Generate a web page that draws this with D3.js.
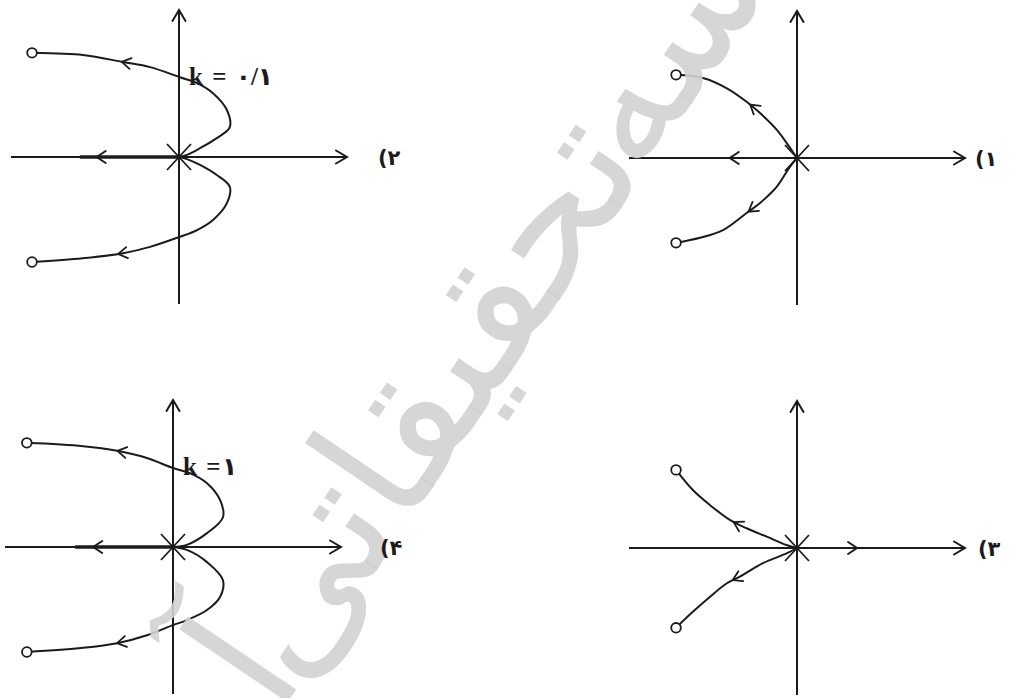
<!DOCTYPE html>
<html><head><meta charset="utf-8">
<script src="https://cdn.jsdelivr.net/npm/d3@7"></script>
<style>html,body{margin:0;padding:0;background:#fff;overflow:hidden}svg{display:block}</style>
</head><body>
<svg id="chart" width="1009" height="698"></svg>
<script>
// ---------------- data (s-plane units) ----------------
const panelNames = ["(۱", "(۲", "(۳", "(۴"];
const gainLabels = ["", "k = ۰/۱", "", "k =۱"];
const axisExtent = [-4, 4];      // real axis
const axisExtentIm = [-3.5, 3.5]; // imaginary axis

// panel 1
const zeros1 = [[-2.88, 1.98], [-2.88, -2.02]];
const upper1 = [[0,0],[-0.13,0.19],[-0.48,0.67],[-0.88,1.07],[-1.2,1.34],[-1.67,1.66],[-2.22,1.9],[-2.88,1.98]];
const lower1 = [[0,0],[-0.17,-0.21],[-0.48,-0.68],[-0.88,-1.07],[-1.2,-1.31],[-1.75,-1.71],[-2.31,-1.9],[-2.88,-2.02]];
const curveArrows1 = [[-1.12,1.26],[-1.17,-1.26]];
const realArrows1 = [[-1.6,-1]];
const realThick1 = [];

// panel 2
const zeros2 = [[-3.5, 2.48], [-3.5, -2.5]];
const upper2 = [[0,0],[0.19,0.05],[0.5,0.21],[0.9,0.45],[1.21,0.71],[1.14,1.12],[0.81,1.52],[0.43,1.76],[0.02,1.9],[-0.69,2.14],[-1.33,2.26],[-2.29,2.43],[-3.5,2.48]];
const lower2 = [[0,0],[0.19,-0.05],[0.5,-0.19],[0.9,-0.43],[1.21,-0.71],[1.14,-1.1],[0.81,-1.5],[0.43,-1.74],[0.02,-1.9],[-0.69,-2.14],[-1.33,-2.29],[-2.29,-2.41],[-3.5,-2.5]];
const curveArrows2 = [[-1.36,2.3],[-1.45,-2.29]];
const realArrows2 = [[-1.96,-1]];
const realThick2 = [-2.36, 0];

// panel 3
const zeros3 = [[-2.88, 1.86], [-2.88, -1.9]];
const upper3 = [[0,0],[-0.25,0.07],[-0.72,0.27],[-1.2,0.47],[-1.6,0.67],[-2.07,1.02],[-2.48,1.38],[-2.88,1.86]];
const lower3 = [[0,0],[-0.25,-0.13],[-0.81,-0.36],[-1.36,-0.68],[-1.67,-0.84],[-2.07,-1.16],[-2.48,-1.52],[-2.88,-1.9]];
const curveArrows3 = [[-1.52,0.6],[-1.55,-0.71]];
const realArrows3 = [[1.43,1]];
const realThick3 = [];

// panel 4
const zeros4 = [[-3.48, 2.48], [-3.48, -2.5]];
const upper4 = [[0,0],[0.33,0.05],[0.81,0.33],[1.19,0.71],[1.12,1.12],[0.81,1.52],[0.4,1.76],[0,1.88],[-0.62,2.12],[-1.33,2.29],[-2.14,2.4],[-3.48,2.48]];
const lower4 = [[0,0],[0.33,-0.07],[0.81,-0.36],[1.19,-0.79],[1.12,-1.19],[0.81,-1.5],[0.33,-1.74],[0,-1.86],[-0.62,-2.1],[-1.33,-2.29],[-2.14,-2.4],[-3.48,-2.5]];
const curveArrows4 = [[-1.33,2.27],[-1.33,-2.32]];
const realArrows4 = [[-1.9,-1]];
const realThick4 = [-2.33, 0];

const watermarkWords = ["موسسه", "تحقیقاتی", "آرمان"];

// ---------------- layout ----------------
const unit = 42;
const layout = [
  {cx: 797, cy: 158, labelX: 975},
  {cx: 179, cy: 157, labelX: 378},
  {cx: 797, cy: 548, labelX: 978},
  {cx: 173, cy: 547, labelX: 380}
];
const panels = [
  {zeros: zeros1, branches: [upper1, lower1], arrows: curveArrows1, realArrows: realArrows1, thick: realThick1},
  {zeros: zeros2, branches: [upper2, lower2], arrows: curveArrows2, realArrows: realArrows2, thick: realThick2},
  {zeros: zeros3, branches: [upper3, lower3], arrows: curveArrows3, realArrows: realArrows3, thick: realThick3},
  {zeros: zeros4, branches: [upper4, lower4], arrows: curveArrows4, realArrows: realArrows4, thick: realThick4}
];

const ink = "#1b1b1b";
const svg = d3.select("#chart");
const plotLayer = svg.append("g");
const wmLayer = svg.append("g");
const textLayer = svg.append("g");

function chevron(g, tip, ang, len, half, width) {
  const dx = Math.cos(ang), dy = Math.sin(ang);
  const nx = -dy, ny = dx;
  const bx = tip[0] - dx * len, by = tip[1] - dy * len;
  g.append("path")
    .attr("d", `M${bx + nx*half},${by + ny*half}L${tip[0]},${tip[1]}L${bx - nx*half},${by - ny*half}`)
    .attr("fill", "none").attr("stroke", ink).attr("stroke-width", width)
    .attr("stroke-linejoin", "miter").attr("stroke-linecap", "round");
}

panels.forEach((p, i) => {
  const L = layout[i];
  const x = d3.scaleLinear().domain([-1, 1]).range([L.cx - unit, L.cx + unit]);
  const y = d3.scaleLinear().domain([-1, 1]).range([L.cy + unit, L.cy - unit]);
  const g = plotLayer.append("g");

  // axes
  const x0 = x(axisExtent[0]), x1 = x(axisExtent[1]);
  const yTop = y(axisExtentIm[1]), yBot = y(axisExtentIm[0]);
  g.append("line").attr("x1", x0).attr("x2", x1).attr("y1", y(0)).attr("y2", y(0))
    .attr("stroke", ink).attr("stroke-width", 2);
  g.append("line").attr("x1", x(0)).attr("x2", x(0)).attr("y1", yTop).attr("y2", yBot)
    .attr("stroke", ink).attr("stroke-width", 2);
  chevron(g, [x1, y(0)], 0, 11, 6.5, 2);
  chevron(g, [x(0), yTop], -Math.PI / 2, 11, 6.5, 2);

  // thick locus on real axis
  if (p.thick.length) {
    g.append("line").attr("x1", x(p.thick[0])).attr("x2", x(p.thick[1]))
      .attr("y1", y(0)).attr("y2", y(0)).attr("stroke", ink).attr("stroke-width", 3.6);
  }
  p.realArrows.forEach(a => {
    chevron(g, [x(a[0]), y(0)], a[1] > 0 ? 0 : Math.PI, 9, 6, 2);
  });

  // branches
  const line = d3.line().x(d => x(d[0])).y(d => y(d[1])).curve(d3.curveCatmullRom.alpha(0.5));
  const paths = p.branches.map(b => g.append("path").attr("d", line(b))
    .attr("fill", "none").attr("stroke", ink).attr("stroke-width", 2).node());

  // arrows on branches
  p.arrows.forEach((a, k) => {
    const node = paths[k];
    const tot = node.getTotalLength();
    const tx = x(a[0]), ty = y(a[1]);
    let best = 0, bd = Infinity;
    for (let s = 0; s <= tot; s += 0.5) {
      const pt = node.getPointAtLength(s);
      const d = (pt.x - tx) ** 2 + (pt.y - ty) ** 2;
      if (d < bd) { bd = d; best = s; }
    }
    const p1 = node.getPointAtLength(Math.max(0, best - 3));
    const p2 = node.getPointAtLength(Math.min(tot, best + 3));
    const ang = Math.atan2(p2.y - p1.y, p2.x - p1.x);
    const tip = node.getPointAtLength(best);
    chevron(g, [tip.x, tip.y], ang, 9, 5.5, 1.8);
  });

  // pole (X) at origin
  const r = 12, rv = 13;
  g.append("path")
    .attr("d", `M${x(0)-r},${y(0)-rv}L${x(0)+r},${y(0)+rv}M${x(0)-r},${y(0)+rv}L${x(0)+r},${y(0)-rv}`)
    .attr("stroke", ink).attr("stroke-width", 1.8).attr("fill", "none");

  // zeros
  g.selectAll("circle.zero").data(p.zeros).enter().append("circle")
    .attr("cx", d => x(d[0])).attr("cy", d => y(d[1])).attr("r", 4.8)
    .attr("fill", "#fff").attr("stroke", ink).attr("stroke-width", 1.8);

  // panel number label
  textLayer.append("text").attr("x", L.labelX).attr("y", L.cy + 8)
    .attr("font-family", "DejaVu Sans").attr("font-size", 21).attr("font-weight", "bold")
    .attr("fill", ink).text(panelNames[i]);
  // gain label
  if (gainLabels[i]) {
    textLayer.append("text").attr("x", x(0) + 10).attr("y", y(1.85) + 6)
      .attr("font-family", "Liberation Serif, DejaVu Sans").attr("font-size", 25)
      .attr("letter-spacing", 1.5)
      .attr("font-weight", "bold").attr("fill", ink).text(gainLabels[i]);
  }
});

// watermark: light grey calligraphy lying over the diagrams
const wm = wmLayer.attr("transform", "translate(425,395) rotate(-56)")
  .attr("font-family", "DejaVu Sans").attr("font-size", 172)
  .attr("fill", "#d2d2d2").attr("fill-opacity", 0.9);
wm.append("text").attr("x", 0).attr("y", 58).attr("text-anchor", "middle").text(watermarkWords[1]);
wm.append("text").attr("x", 300).attr("y", 58).attr("text-anchor", "start").text(watermarkWords[0]);
wm.append("text").attr("x", -300).attr("y", 58).attr("text-anchor", "end").text(watermarkWords[2]);
</script>
</body></html>
